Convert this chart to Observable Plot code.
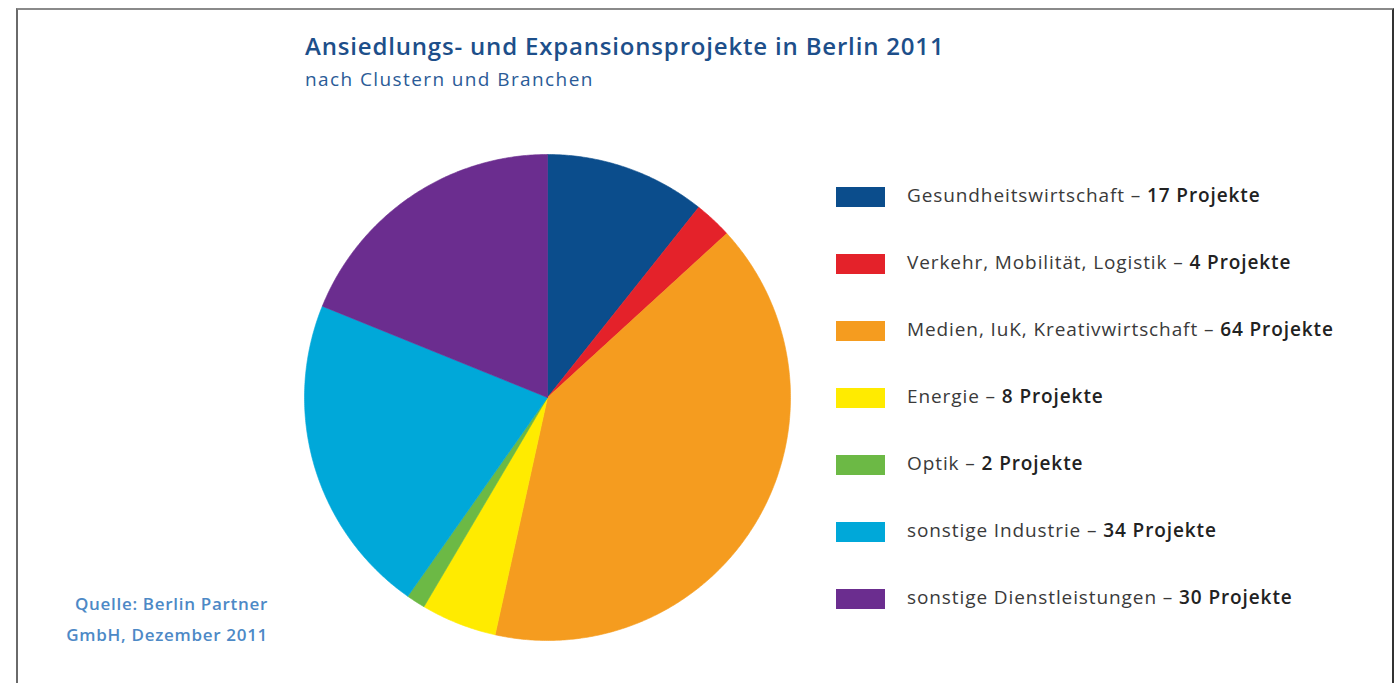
<!DOCTYPE html>
<html>
<head>
<meta charset="utf-8">
<script src="https://cdn.jsdelivr.net/npm/d3@7"></script>
<script src="https://cdn.jsdelivr.net/npm/@observablehq/plot@0.6"></script>
<style>
  html, body { margin: 0; padding: 0; background: #fff; }
  #page { position: relative; width: 1400px; height: 683px; overflow: hidden; font-family: "Open Sans", sans-serif; }
  #frame { position: absolute; left: 16px; top: 8px; width: 1374px; height: 700px; border-top: 2px solid #8a8a8a; border-left: 2px solid #6a6a6a; border-right: 2px solid #333; }
  #title { position: absolute; left: 305px; top: 29px; font-size: 24px; letter-spacing: 0.82px; font-weight: 600; color: #1d4f8a; white-space: nowrap; }
  #subtitle { position: absolute; left: 305px; top: 66px; font-size: 19px; letter-spacing: 1.4px; color: #2b5b97; white-space: nowrap; }
  #pie { position: absolute; left: 297px; top: 147px; }
  #legend { position: absolute; left: 836px; top: 186px; }
  .row { position: absolute; left: 0; height: 22px; white-space: nowrap; }
  .sw { position: absolute; left: 0; top: 1px; width: 49px; height: 20px; }
  .lbl { position: absolute; left: 71px; top: -4px; font-size: 19px; letter-spacing: 0.9px; color: #3a3a3a; }
  .lbl b { font-weight: 600; color: #222; }
  #source { position: absolute; right: calc(1400px - 268px); top: 588px; font-size: 17px; letter-spacing: 0.7px; font-weight: 600; color: #4d89c6; text-align: right; line-height: 31px; white-space: nowrap; }
</style>
</head>
<body>
<div id="page">
  <div id="frame"></div>
  <div id="title">Ansiedlungs- und Expansionsprojekte in Berlin 2011</div>
  <div id="subtitle">nach Clustern und Branchen</div>
  <div id="pie"></div>
  <div id="legend"></div>
  <div id="source">Quelle: Berlin Partner<br>GmbH, Dezember 2011</div>
</div>
<script>
const categories = ["Gesundheitswirtschaft", "Verkehr, Mobilität, Logistik", "Medien, IuK, Kreativwirtschaft", "Energie", "Optik", "sonstige Industrie", "sonstige Dienstleistungen"];
const projects = [17, 4, 64, 8, 2, 34, 30];
const colors = ["#0b4d8c", "#e4222a", "#f59c1f", "#ffeb00", "#6cb945", "#00a8d9", "#6b2d8f"];
const unitLabel = "Projekte";

// Build pie wedge outlines from d3.pie angles (geometry only; values come from the arrays above)
const arcs = d3.pie().sort(null).value(d => d)(projects);
const pieRows = [];
arcs.forEach((a, i) => {
  const cat = categories[i];
  pieRows.push({cat, x: 0, y: 0});
  const n = Math.max(4, Math.ceil((a.endAngle - a.startAngle) / (Math.PI / 360)));
  for (let k = 0; k <= n; k++) {
    const t = a.startAngle + (a.endAngle - a.startAngle) * k / n;
    pieRows.push({cat, x: Math.sin(t), y: Math.cos(t)});
  }
  pieRows.push({cat, x: 0, y: 0});
});

const pie = Plot.plot({
  width: 500,
  height: 500,
  margin: 7,
  x: {domain: [-1, 1], axis: null},
  y: {domain: [-1, 1], axis: null},
  color: {type: "ordinal", domain: categories, range: colors},
  marks: [
    Plot.line(pieRows, {x: "x", y: "y", z: "cat", fill: "cat", stroke: "cat", strokeWidth: 0.6, curve: "linear"})
  ]
});
document.getElementById("pie").appendChild(pie);

// Legend
const legend = document.getElementById("legend");
categories.forEach((c, i) => {
  const row = document.createElement("div");
  row.className = "row";
  row.style.top = (i * 67) + "px";
  const sw = document.createElement("div");
  sw.className = "sw";
  sw.style.background = colors[i];
  const lbl = document.createElement("div");
  lbl.className = "lbl";
  lbl.innerHTML = `${c} – <b>${projects[i]} ${unitLabel}</b>`;
  row.appendChild(sw);
  row.appendChild(lbl);
  legend.appendChild(row);
});
</script>
</body>
</html>
